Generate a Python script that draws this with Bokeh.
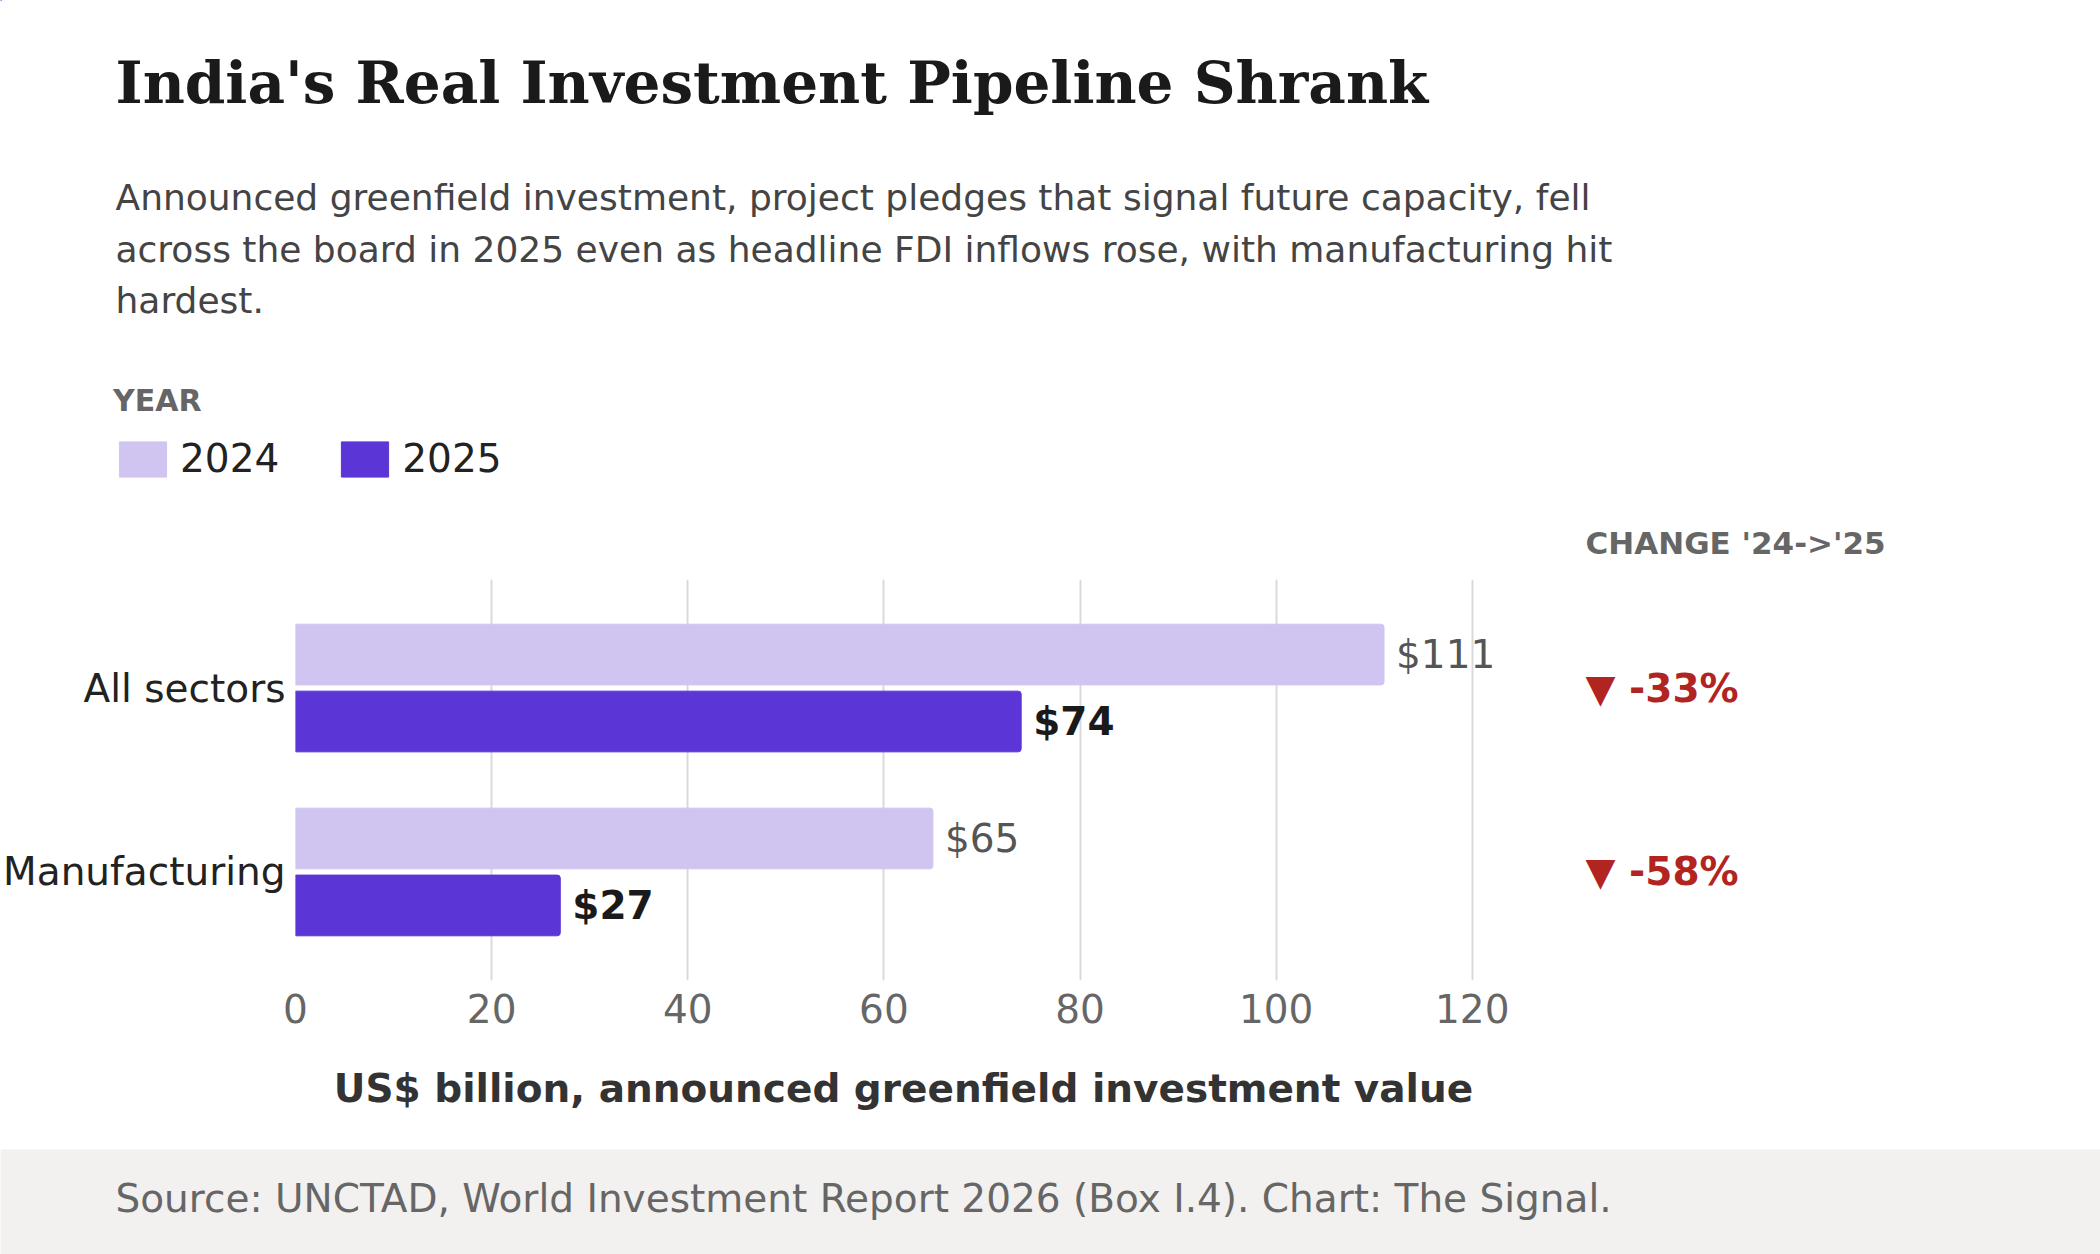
from bokeh.plotting import figure
from bokeh.layouts import column, row
from bokeh.models import (ColumnDataSource, FactorRange, Range1d, FixedTicker,
                          Legend, LegendItem)
from bokeh.transform import dodge
from bokeh.core.properties import value
from bokeh.embed import file_html
from bokeh.resources import INLINE

# ---- data ----
categories = ["All sectors", "Manufacturing"]
values_2024 = [111, 65]
values_2025 = [74, 27]
years = ["2024", "2025"]
x_ticks = [0, 20, 40, 60, 80, 100, 120]

title_text = "India's Real Investment Pipeline Shrank"
subtitle_lines = [
    "Announced greenfield investment, project pledges that signal future capacity, fell",
    "across the board in 2025 even as headline FDI inflows rose, with manufacturing hit",
    "hardest.",
]
x_label = "US$ billion, announced greenfield investment value"
source_text = "Source: UNCTAD, World Investment Report 2026 (Box I.4). Chart: The Signal."
change_header = "CHANGE '24->'25"
legend_title = "YEAR"

# ---- style ----
C24 = "#d0c5f0"
C25 = "#5b35d5"
RED = "#b2241f"
SANS = value("DejaVu Sans")
W, H_HEAD, H_CHART, H_FOOT = 2100, 579, 570, 105
CHART_W = 1511


def blank(width, height, x_range, y_range, **kw):
    f = figure(width=width, height=height, x_range=x_range, y_range=y_range,
               output_backend="svg", toolbar_location=None,
               min_border_left=0, min_border_right=0, min_border_top=0,
               min_border_bottom=0, x_axis_type=None, y_axis_type=None, **kw)
    f.outline_line_color = None
    f.grid.grid_line_color = None
    return f


# ---------------- header ----------------
head = blank(W, H_HEAD, Range1d(0, W), Range1d(H_HEAD, 0))
head.background_fill_color = "white"
head.border_fill_color = "white"
head.text(x=[115], y=[82], text=[title_text], text_font=value("DejaVu Serif"),
          text_font_style="bold", text_font_size="58px", text_color="#1a1a1a",
          text_baseline="alphabetic")
head.text(x=[115] * len(subtitle_lines),
          y=[197 + i * 51.5 for i in range(len(subtitle_lines))],
          text=subtitle_lines, text_font=SANS, text_font_size="36px",
          text_color="#444444", text_baseline="alphabetic")
head.text(x=[1585], y=[542], text=[change_header], text_font=SANS,
          text_font_size="31px", text_font_style="bold", text_color="#666666",
          text_baseline="alphabetic")

# legend (swatch renderers carry the series colours; their single row lies off-frame)
off = ColumnDataSource(dict(y=[-1000], l=[0], r=[1]))
lg24 = head.hbar(y="y", left="l", right="r", height=1, source=off,
                 fill_color=C24, line_color=C24)
lg25 = head.hbar(y="y", left="l", right="r", height=1, source=off,
                 fill_color=C25, line_color=C25)
legend = Legend(items=[LegendItem(label=years[0], renderers=[lg24]),
                       LegendItem(label=years[1], renderers=[lg25])],
                orientation="horizontal", title=legend_title,
                title_text_font="DejaVu Sans", title_text_font_size="30px",
                title_text_font_style="bold", title_text_color="#666666",
                title_standoff=18,
                label_text_font="DejaVu Sans", label_text_font_size="39px",
                label_text_color="#222222",
                glyph_width=59, glyph_height=44, spacing=56, label_standoff=8,
                padding=0, margin=0, border_line_alpha=0, background_fill_alpha=0,
                location=(113, 98))
head.add_layout(legend)

# ---------------- chart ----------------
src = ColumnDataSource(dict(
    cat=categories,
    v24=values_2024,
    v25=values_2025,
    l24=["$%d" % v for v in values_2024],
    l25=["$%d" % v for v in values_2025],
))
yr = FactorRange(*categories[::-1], range_padding=0.09, range_padding_units="absolute")

p = figure(width=CHART_W, height=H_CHART, y_range=yr, x_range=Range1d(0, 124),
           output_backend="svg", toolbar_location=None,
           min_border_left=295, min_border_right=0,
           min_border_top=0, min_border_bottom=169)
p.outline_line_color = None
p.background_fill_color = "white"
p.border_fill_color = "white"

OFF = 0.182
BH = 0.33
p.hbar(y=dodge("cat", OFF, range=yr), left=0, right="v24", height=BH,
       source=src, fill_color=C24, line_color=C24, border_radius=(0, 3, 3, 0))
p.hbar(y=dodge("cat", -OFF, range=yr), left=0, right="v25", height=BH,
       source=src, fill_color=C25, line_color=C25, border_radius=(0, 3, 3, 0))

p.text(x="v24", y=dodge("cat", OFF, range=yr), text="l24", source=src,
       x_offset=12, text_baseline="middle", text_align="left",
       text_font=SANS, text_font_size="39px", text_color="#555555")
p.text(x="v25", y=dodge("cat", -OFF, range=yr), text="l25", source=src,
       x_offset=12, text_baseline="middle", text_align="left",
       text_font=SANS, text_font_size="39px", text_font_style="bold",
       text_color="#1a1a1a")

p.xaxis.ticker = FixedTicker(ticks=x_ticks)
p.xaxis.axis_line_color = None
p.xaxis.major_tick_line_color = None
p.xaxis.minor_tick_line_color = None
p.xaxis.major_tick_out = 0
p.xaxis.major_tick_in = 0
p.xaxis.major_label_standoff = 13
p.xaxis.major_label_text_font = "DejaVu Sans"
p.xaxis.major_label_text_font_size = "39px"
p.xaxis.major_label_text_color = "#666666"
p.xaxis.axis_label = x_label
p.xaxis.axis_label_text_font = "DejaVu Sans"
p.xaxis.axis_label_text_font_size = "39px"
p.xaxis.axis_label_text_font_style = "bold"
p.xaxis.axis_label_text_color = "#333333"
p.xaxis.axis_label_standoff = 40

p.yaxis.axis_line_color = None
p.yaxis.major_tick_line_color = None
p.yaxis.minor_tick_line_color = None
p.yaxis.major_tick_out = 0
p.yaxis.major_tick_in = 0
p.yaxis.major_label_standoff = 10
p.yaxis.major_label_text_font = "DejaVu Sans"
p.yaxis.major_label_text_font_size = "39px"
p.yaxis.major_label_text_color = "#222222"

p.xgrid.grid_line_color = "#dadada"
p.xgrid.grid_line_width = 2
p.ygrid.grid_line_color = None

# ---------------- change column ----------------
chg = ColumnDataSource(dict(
    cat=categories,
    txt=["%s %d%%" % ("\u25BC" if round((b - a) / a * 100) < 0 else "\u25B2",
                      round((b - a) / a * 100))
         for a, b in zip(values_2024, values_2025)],
))
side = figure(width=W - CHART_W, height=H_CHART, y_range=yr, x_range=Range1d(0, W - CHART_W),
              output_backend="svg", toolbar_location=None,
              min_border_left=0, min_border_right=0, min_border_top=0,
              min_border_bottom=169, x_axis_type=None, y_axis_type=None)
side.outline_line_color = None
side.grid.grid_line_color = None
side.background_fill_color = "white"
side.border_fill_color = "white"
side.text(x=74, y="cat", text="txt", source=chg, text_font=SANS, text_font_size="39px",
          text_font_style="bold", text_color=RED, text_baseline="middle", text_align="left")

# ---------------- footer ----------------
foot = blank(W, H_FOOT, Range1d(0, W), Range1d(H_FOOT, 0))
foot.background_fill_color = "#f2f1ef"
foot.border_fill_color = "#f2f1ef"
foot.text(x=[115], y=[48.5], text=[source_text], text_font=SANS, text_font_size="39px",
          text_color="#666666", text_baseline="alphabetic")

layout = column(head, row(p, side, spacing=0), foot, spacing=0)
open("out.html", "w").write(file_html(layout, INLINE))
